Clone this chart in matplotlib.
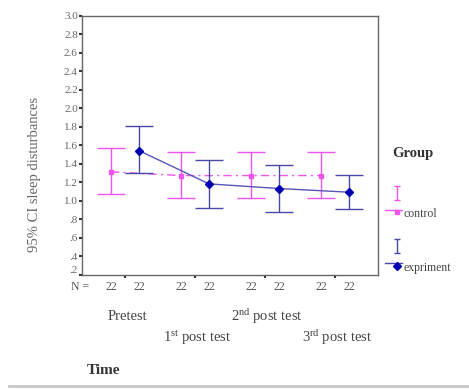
import matplotlib
matplotlib.use("Agg")
import matplotlib.pyplot as plt
import matplotlib.transforms as mtransforms
import numpy as np

plt.rcParams['font.family'] = ['Liberation Serif', 'DejaVu Serif']
plt.rcParams['mathtext.fontset'] = 'custom'
plt.rcParams['mathtext.rm'] = 'Liberation Serif'
plt.rcParams['mathtext.it'] = 'Liberation Serif'

# ---- data ----
categories = ["Pretest", "1$^{\\mathrm{st}}$ post test", "2$^{\\mathrm{nd}}$ post test", "3$^{\\mathrm{rd}}$ post test"]
control_mean = [1.31, 1.27, 1.27, 1.27]
control_low = [1.07, 1.03, 1.03, 1.03]
control_high = [1.57, 1.52, 1.52, 1.52]
exp_mean = [1.54, 1.18, 1.13, 1.09]
exp_low = [1.30, 0.92, 0.88, 0.91]
exp_high = [1.81, 1.44, 1.38, 1.28]
n_control = [22, 22, 22, 22]
n_exp = [22, 22, 22, 22]
ytick_vals = [0.2, 0.4, 0.6, 0.8, 1.0, 1.2, 1.4, 1.6, 1.8, 2.0, 2.2, 2.4, 2.6, 2.8, 3.0]
ytick_labels = [".2", ".4", ".6", ".8", "1.0", "1.2", "1.4", "1.6", "1.8", "2.0", "2.2", "2.4", "2.6", "2.8", "3.0"]

W, H = 469, 389
fig = plt.figure(figsize=(W / 100, H / 100), dpi=100)

def fx(px):
    return px / W

def fy(py):
    return 1 - py / H

left, right, top, bottom = 82, 377.7, 15.6, 274.5
ax = fig.add_axes([fx(left), fy(bottom), fx(right - left), (bottom - top) / H])

pink = '#ee55ee'
blue_bar = '#4848a8'
blue_mark = '#0000b0'

x = np.arange(1, len(categories) + 1)
off = 0.2
xc = x - off
xe = x + off

cm = np.array(control_mean)
em = np.array(exp_mean)
ax.errorbar(xc, cm, yerr=[cm - np.array(control_low), np.array(control_high) - cm],
            fmt='none', ecolor=pink, elinewidth=1.0, capsize=10, capthick=1.0)
ax.plot(xc, cm, color=pink, lw=1.0, ls=(0, (6, 3, 1.5, 3)), marker='s', ms=3,
        mfc=pink, mec=pink)
ax.errorbar(xe, em, yerr=[em - np.array(exp_low), np.array(exp_high) - em],
            fmt='none', ecolor=blue_bar, elinewidth=1.0, capsize=10, capthick=1.0)
ax.plot(xe, em, color='#5555b8', lw=1.0, marker='D', ms=4.5, mfc=blue_mark, mec=blue_mark)

ax.set_xlim(0.386, 4.61)
ax.set_ylim(0.2, 3.0)
ax.set_yticks(ytick_vals)
ax.set_yticklabels(ytick_labels)
ax.set_xticks(x)
ax.set_xticklabels([])
ax.tick_params(axis='both', direction='out', length=2, width=1.5, color='#333333',
               labelsize=8, labelcolor='#666666', pad=1)
for s in ax.spines.values():
    s.set_color('#666666')
    s.set_linewidth(1.0)

# raise the lowest tick label a bit, as in the reference
fig.canvas.draw()
lowlab = ax.get_yticklabels()[0]
lowlab.set_transform(lowlab.get_transform() + mtransforms.ScaledTranslation(0, 5 / 100, fig.dpi_scale_trans))

# N labels
ny = 287
fig.text(fx(71), fy(ny), "N =", fontsize=8.5, color='#555555', ha='left', va='center')
trans = ax.get_xaxis_transform()
yN = (bottom - ny) / (bottom - top)
for xi, n in zip(xc, n_control):
    ax.text(xi, yN, str(n), fontsize=8.5, color='#555555', ha='center', va='center',
            transform=trans, clip_on=False)
for xi, n in zip(xe, n_exp):
    ax.text(xi, yN, str(n), fontsize=8.5, color='#555555', ha='center', va='center',
            transform=trans, clip_on=False)

# category labels (staggered)
for i, (xi, lab) in enumerate(zip(x, categories)):
    py = 317 if i % 2 == 0 else 338
    ax.text(xi + 0.03, (bottom - py) / (bottom - top), lab, fontsize=10.5, color='#444444',
            ha='center', va='center', transform=trans, clip_on=False)

fig.text(fx(87), fy(370), "Time", fontsize=11, fontweight='bold', color='#333333',
         ha='left', va='center')

fig.text(fx(35), fy(175), "95% CI sleep disturbances", fontsize=10.5, color='#666666',
         rotation=90, ha='center', va='center')

# legend overlay
lax = fig.add_axes([0, 0, 1, 1], facecolor='none')
lax.set_xlim(0, W)
lax.set_ylim(H, 0)
lax.axis('off')
lax.text(392, 153, "Group", fontsize=10.5, fontweight='bold', color='#333333', ha='left', va='center')
lax.errorbar([397], [193], yerr=[[7], [7]], fmt='none', ecolor=pink, elinewidth=1.0,
             capsize=2.5, capthick=1.0)
lax.plot([385, 402], [210, 210], color=pink, lw=1.0)
lax.plot([397], [212], marker='s', ms=2.5, color=pink)
lax.text(404, 214, "control", fontsize=8.5, color='#444444', ha='left', va='center')
lax.errorbar([397], [246], yerr=[[7], [7]], fmt='none', ecolor=blue_bar, elinewidth=1.0,
             capsize=2.5, capthick=1.0)
lax.plot([385, 402], [263, 263], color=blue_bar, lw=1.0)
lax.plot([397], [266], marker='D', ms=4, color=blue_mark)
lax.text(404, 268, "expriment", fontsize=8.5, color='#444444', ha='left', va='center')

lax.plot([9, 469], [386, 386], color='#c8c8c8', lw=2)

fig.savefig("out.png", dpi=100)
